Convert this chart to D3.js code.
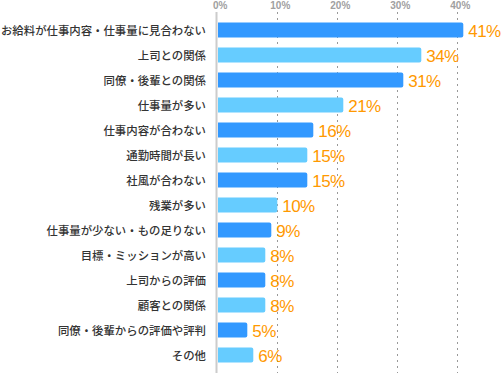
<!DOCTYPE html>
<html><head><meta charset="utf-8">
<script src="https://cdn.jsdelivr.net/npm/d3@7"></script>
<style>body{margin:0;background:#fff}svg{display:block}</style>
</head><body>
<svg id="c" width="501" height="373"></svg>
<script>
const categories = ["お給料が仕事内容・仕事量に見合わない","上司との関係","同僚・後輩との関係","仕事量が多い","仕事内容が合わない","通勤時間が長い","社風が合わない","残業が多い","仕事量が少ない・もの足りない","目標・ミッションが高い","上司からの評価","顧客との関係","同僚・後輩からの評価や評判","その他"];
const values = [41,34,31,21,16,15,15,10,9,8,8,8,5,6];
const tickValues = [0,10,20,30,40];
const tickLabels = ["0%","10%","20%","30%","40%"];
const colors = ["#3399ff","#66ccff"];

const svg = d3.select("#c");
const x = d3.scaleLinear().domain([0,40]).range([217.3,457.3]);
const y = d3.scaleBand().domain(categories).range([17.5,367.5]).paddingInner(0.4).paddingOuter(0.2);

// gridlines
svg.append("g").selectAll("line").data(tickValues.slice(1)).join("line")
  .attr("x1",d=>Math.round(x(d))+0.5).attr("x2",d=>Math.round(x(d))+0.5)
  .attr("y1",12).attr("y2",373)
  .attr("stroke","#999").attr("stroke-width",1).attr("stroke-dasharray","2,4");

// tick labels
svg.append("g").selectAll("text").data(tickValues).join("text")
  .attr("x",d=>x(d)+3).attr("y",9)
  .attr("text-anchor","middle")
  .attr("font-family","Liberation Sans, Arial, sans-serif")
  .attr("font-size",10).attr("font-weight","bold").attr("fill","#a0a0a0")
  .text((d,i)=>tickLabels[i]);

// axis line
svg.append("line").attr("x1",216.5).attr("x2",216.5).attr("y1",12).attr("y2",373)
  .attr("stroke","#cccccc").attr("stroke-width",2);

// bars with rounded right corners
const r = 2;
svg.append("g").selectAll("path").data(values).join("path")
  .attr("d",(d,i)=>{
    const x0 = 218, x1 = x(d), y0 = y(categories[i]), h = y.bandwidth();
    return `M${x0},${y0}H${x1-r}Q${x1},${y0} ${x1},${y0+r}V${y0+h-r}Q${x1},${y0+h} ${x1-r},${y0+h}H${x0}Z`;
  })
  .attr("fill",(d,i)=>colors[i%2]);

// value labels
svg.append("g").selectAll("text").data(values).join("text")
  .attr("x",d=>x(d)+5).attr("y",(d,i)=>y(categories[i])+y.bandwidth()/2+6.5)
  .attr("font-family","Liberation Sans, Arial, sans-serif")
  .attr("font-size",17).attr("letter-spacing","-0.6")
  .attr("fill","#ff9900")
  .text(d=>d+"%");

// category labels
svg.append("g").selectAll("text").data(categories).join("text")
  .attr("x",206).attr("y",d=>y(d)+y.bandwidth()/2+4.5)
  .attr("text-anchor","end")
  .attr("font-family","Noto Sans CJK JP, sans-serif")
  .attr("font-size",11.4).attr("font-weight",500).attr("fill","#333")
  .text(d=>d);
</script>
</body></html>
